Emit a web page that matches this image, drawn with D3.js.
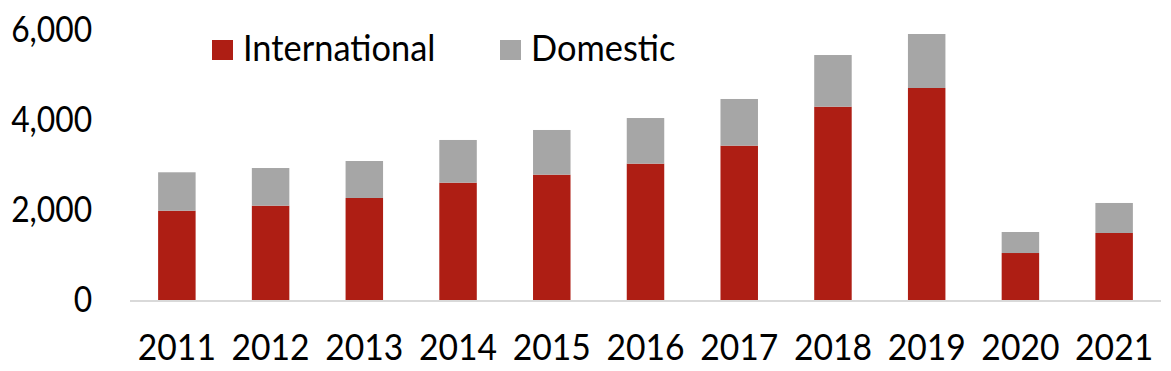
<!DOCTYPE html>
<html>
<head>
    <meta charset="utf-8">
    <style>
        body {
            margin: 0;
            background: white;
        }

        svg {
            font-family: Lato, 'Noto Sans', sans-serif;
        }
    </style>
</head>
<body>
    <svg width="1171" height="371"></svg>

<script src="https://d3js.org/d3.v7.min.js"></script>
<script>
    // data
    let years = ["2011", "2012", "2013", "2014", "2015", "2016", "2017", "2018", "2019", "2020", "2021"]
    let international = [1984, 2096, 2267, 2607, 2785, 3030, 3430, 4296, 4711, 1044, 1489]
    let domestic = [854, 837, 822, 949, 993, 1014, 1037, 1148, 1200, 467, 667]
    let seriesNames = ["International", "Domestic"]
    let yTicks = [0, 2000, 4000, 6000]

    let colors = { International: "#ae1e14", Domestic: "#a6a6a6" }
    let fontSize = 37

    let svg = d3.select("svg")

    let x = d3.scaleBand()
        .domain(years)
        .range([130, 1161])
        .paddingInner(0.6)
        .paddingOuter(0.3)

    let y = d3.scaleLinear()
        .domain([0, 6000])
        .range([300, 30])

    let rows = years.map((yr, i) => ({ year: yr, International: international[i], Domestic: domestic[i] }))
    let stacked = d3.stack().keys(seriesNames)(rows)

    // bars
    svg.append("g")
        .selectAll("g")
        .data(stacked)
        .join("g")
        .attr("fill", d => colors[d.key])
        .selectAll("rect")
        .data(d => d)
        .join("rect")
        .attr("x", d => x(d.data.year))
        .attr("y", d => y(d[1]))
        .attr("width", x.bandwidth())
        .attr("height", d => y(d[0]) - y(d[1]))

    // baseline
    svg.append("line")
        .attr("x1", 130)
        .attr("x2", 1161)
        .attr("y1", y(0) + 1)
        .attr("y2", y(0) + 1)
        .attr("stroke", "#d9d9d9")
        .attr("stroke-width", 2)

    // y axis, labels only
    let yAxis = svg.append("g")
        .attr("transform", "translate(130,0)")
        .call(d3.axisLeft(y).tickValues(yTicks).tickSize(0).tickPadding(44).tickFormat(d3.format(",")))
    yAxis.select(".domain").remove()
    yAxis.selectAll("text")
        .attr("font-size", fontSize)
        .attr("font-family", "Lato, sans-serif")
        .attr("fill", "#000")
        .attr("transform", "scale(0.86,1)")

    // x axis, labels only
    let xAxis = svg.append("g")
        .attr("transform", "translate(0,300)")
        .call(d3.axisBottom(x).tickSize(0).tickPadding(34))
    xAxis.select(".domain").remove()
    xAxis.selectAll("text")
        .attr("font-size", fontSize)
        .attr("font-family", "Lato, sans-serif")
        .attr("fill", "#000")
        .attr("transform", "scale(0.91,1)")

    // legend
    let legendX = [212, 500]
    let legend = svg.append("g")
        .selectAll("g")
        .data(seriesNames)
        .join("g")
        .attr("transform", (d, i) => "translate(" + legendX[i] + ",40)")

    legend.append("rect")
        .attr("width", 21)
        .attr("height", 20)
        .attr("fill", d => colors[d])

    legend.append("text")
        .attr("transform", "translate(31,21) scale(0.93,1)")
        .attr("font-size", fontSize)
        .attr("fill", "#000")
        .text(d => d)
</script>
</body>
</html>
